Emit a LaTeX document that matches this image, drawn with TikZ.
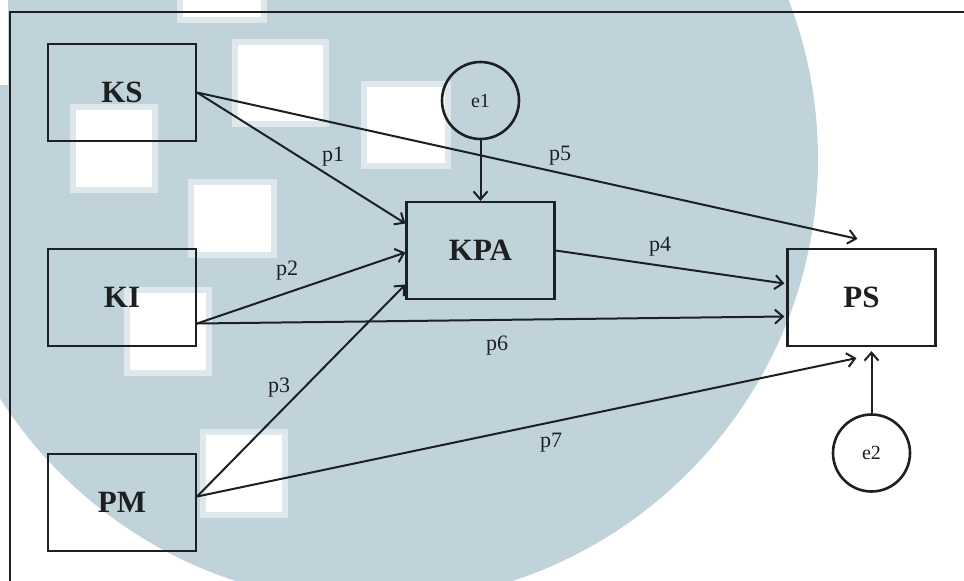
\documentclass[tikz,border=0pt]{standalone}
\usepackage{fontspec}
\setmainfont{Liberation Serif}
\usetikzlibrary{arrows.meta,calc}
\definecolor{wm}{RGB}{193,211,218}
\definecolor{wmedge}{RGB}{222,232,236}
\definecolor{ink}{RGB}{28,32,35}
\tikzset{
  box/.style={draw=ink, line width=2.2pt, minimum width=148pt, minimum height=97pt,
    inner sep=0pt, text=ink, font=\fontsize{31}{36}\selectfont\bfseries},
  errc/.style={circle, draw=ink, line width=2.6pt, minimum size=77pt, inner sep=0pt,
    text=ink, font=\fontsize{20}{22}\selectfont},
  arr/.style={draw=ink, line width=2pt, -{Straight Barb[length=8pt,width=14pt]}},
  lbl/.style={inner sep=0pt, text=ink, font=\fontsize{22}{24}\selectfont},
  wsq/.style={fill=white, draw=wmedge, line width=6pt},
  frame/.style={draw=ink, line width=2.2pt},
}
\begin{document}
\begin{tikzpicture}[x=1pt,y=-1pt]
\useasboundingbox (0,0) rectangle (964,581);
% watermark background
\begin{scope}
  \clip (0,0) rectangle (964,581);
  \fill[wm] (374,159) circle (444);
  \fill[white] (0,0) rectangle (8,85);
  \path[wsq] (180,-10) rectangle (264,20);
  \path[wsq] (235,42) rectangle (326,124);
  \path[wsq] (364,84) rectangle (448,166);
  \path[wsq] (73,107) rectangle (155,190);
  \path[wsq] (191,182) rectangle (274,255);
  \path[wsq] (127,290) rectangle (209,373);
  \path[wsq] (203,432) rectangle (285,515);
  \draw[frame] (10,590) -- (10,12) -- (970,12);
\end{scope}
% nodes
\node[box] (KS)  at (122,92.5) {KS};
\node[box] (KI)  at (122,297.5) {KI};
\node[box] (PM)  at (122,502.5) {PM};
\node[box] (KPA) at (480.5,250.5) {KPA};
\node[box] (PS)  at (861.5,297.5) {PS};
\node[errc] (e1) at (480.5,100.5) {e1};
\node[errc] (e2) at (871.5,453) {e2};
% connectors
\draw[arr] (KS.east) -- ($(KPA.west)+(0,-27)$);
\draw[arr] (KS.east) -- ($(PS.north)+(-4,-9)$);
\draw[arr] ($(KI.east)+(0,26)$) -- ($(KPA.west)+(0,2)$);
\draw[arr] ($(KI.east)+(0,26)$) -- ($(PS.west)+(-2,19)$);
\draw[arr] ($(PM.east)+(0,-6)$) -- ($(KPA.west)+(0,34)$);
\draw[arr] ($(PM.east)+(0,-6)$) -- ($(PS.south)+(-5,11)$);
\draw[arr] (KPA.east) -- ($(PS.west)+(-2,-14)$);
\draw[arr] (e1.south) -- (KPA.north);
\draw[arr] (e2.north) -- ($(PS.south)+(10,4)$);
% path labels
\node[lbl] (lp1) at (333,157) {p1};
\node[lbl] (lp2) at (287,271) {p2};
\node[lbl] (lp3) at (279,388) {p3};
\node[lbl] (lp4) at (660,247) {p4};
\node[lbl] (lp5) at (560,156) {p5};
\node[lbl] (lp6) at (497,346) {p6};
\node[lbl] (lp7) at (551,443) {p7};
\end{tikzpicture}
\end{document}
